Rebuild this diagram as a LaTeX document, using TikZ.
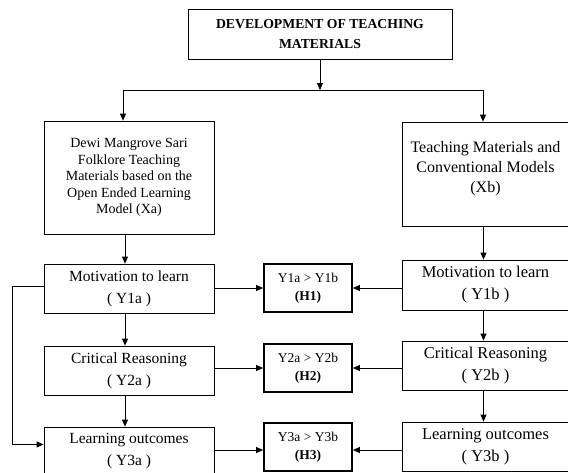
\documentclass[tikz,border=0pt]{standalone}
\usepackage{fontspec}
\setmainfont{Liberation Serif}
\usetikzlibrary{arrows.meta}

\begin{document}
\begin{tikzpicture}[
    x=1pt, y=-1pt,
    >={Triangle[length=7pt,width=6pt]},
    line width=0.8pt,
    box/.style={draw, align=center, inner sep=0pt, minimum width=170pt, minimum height=49pt},
    boxr/.style={box, minimum width=167pt},
    hyp/.style={draw, line width=1.8pt, align=center, inner sep=0pt, minimum width=88pt, minimum height=48pt,
        font=\fontsize{13.5}{18}\selectfont},
    head/.style={draw, align=center, inner sep=0pt, minimum width=264pt, minimum height=50pt,
        font=\fontsize{13.7}{20}\selectfont\bfseries}
]
\useasboundingbox (0,0) rectangle (568,472);
\clip (0,0) rectangle (568,472);

\node[head] (top) at (320,34) {DEVELOPMENT OF TEACHING\\MATERIALS};

\node[box, minimum height=113pt, font=\fontsize{14}{16.6}\selectfont] (xa) at (129,177.5)
    {Dewi Mangrove Sari\\Folklore Teaching\\Materials based on the\\Open Ended Learning\\Model (Xa)};
\node[boxr, minimum height=104pt, font=\fontsize{16}{20}\selectfont] (xb) at (485.5,174)
    {Teaching Materials and\\Conventional Models\\(Xb)\\[-6pt]\mbox{}};

% left column
\node[box, font=\fontsize{15.5}{22}\selectfont] (ma) at (129,288.5) {Motivation to learn\\( Y1a )};
\node[box, font=\fontsize{15.5}{22}\selectfont] (ca) at (129,370.5) {Critical Reasoning\\( Y2a )};
\node[box, font=\fontsize{15.5}{22}\selectfont] (la) at (129,451.5) {Learning outcomes\\( Y3a )};

% right column
\node[boxr, minimum height=50pt, font=\fontsize{16.5}{22}\selectfont] (mb) at (485.5,285) {Motivation to learn\\( Y1b )};
\node[boxr, font=\fontsize{16.5}{22}\selectfont] (cb) at (485.5,365.5) {Critical Reasoning\\( Y2b )};
\node[boxr, font=\fontsize{16.5}{22}\selectfont] (lb) at (485.5,446.5) {Learning outcomes\\( Y3b )};

% hypotheses
\node[hyp] (h1) at (308,288) {Y1a > Y1b\\\textbf{(H1)}};
\node[hyp] (h2) at (308,368) {Y2a > Y2b\\\textbf{(H2)}};
\node[hyp] (h3) at (308,447) {Y3a > Y3b\\\textbf{(H3)}};

\coordinate (split) at (320,90);
\coordinate (jl) at (123,90);
\coordinate (jr) at (483,90);

\draw[->] (top) -- (split);
\draw (jl) -- (jr);
\draw[->] (jl) -- (jl |- xa.north);
\draw[->] (jr) -- (jr |- xb.north);

\draw[->] ([xshift=-4pt]xa.south) -- ([xshift=-4pt]ma.north);
\draw[->] ([xshift=-4pt]ma.south) -- ([xshift=-4pt]ca.north);
\draw[->] ([xshift=-4pt]ca.south) -- ([xshift=-4pt]la.north);
\draw[->] ([xshift=-2pt]xb.south) -- ([xshift=-2pt]mb.north);
\draw[->] ([xshift=-2pt]mb.south) -- ([xshift=-2pt]cb.north);
\draw[->] ([xshift=-2pt]cb.south) -- ([xshift=-2pt]lb.north);

\draw[->] (ma.east |- h1.west) -- (h1.west);
\draw[->] (mb.west |- h1.east) -- (h1.east);
\draw[->] (ca.east |- h2.west) -- (h2.west);
\draw[->] (cb.west |- h2.east) -- (h2.east);
\draw[->] ([yshift=-3pt]la.east |- h3.west) -- ([yshift=-3pt]h3.west);
\draw[->] ([yshift=-3pt]lb.west |- h3.east) -- ([yshift=-3pt]h3.east);

\draw[->] ([yshift=2pt]ma.west) -- ++(-31,0) |- ([yshift=7pt]la.west);

\end{tikzpicture}
\end{document}
